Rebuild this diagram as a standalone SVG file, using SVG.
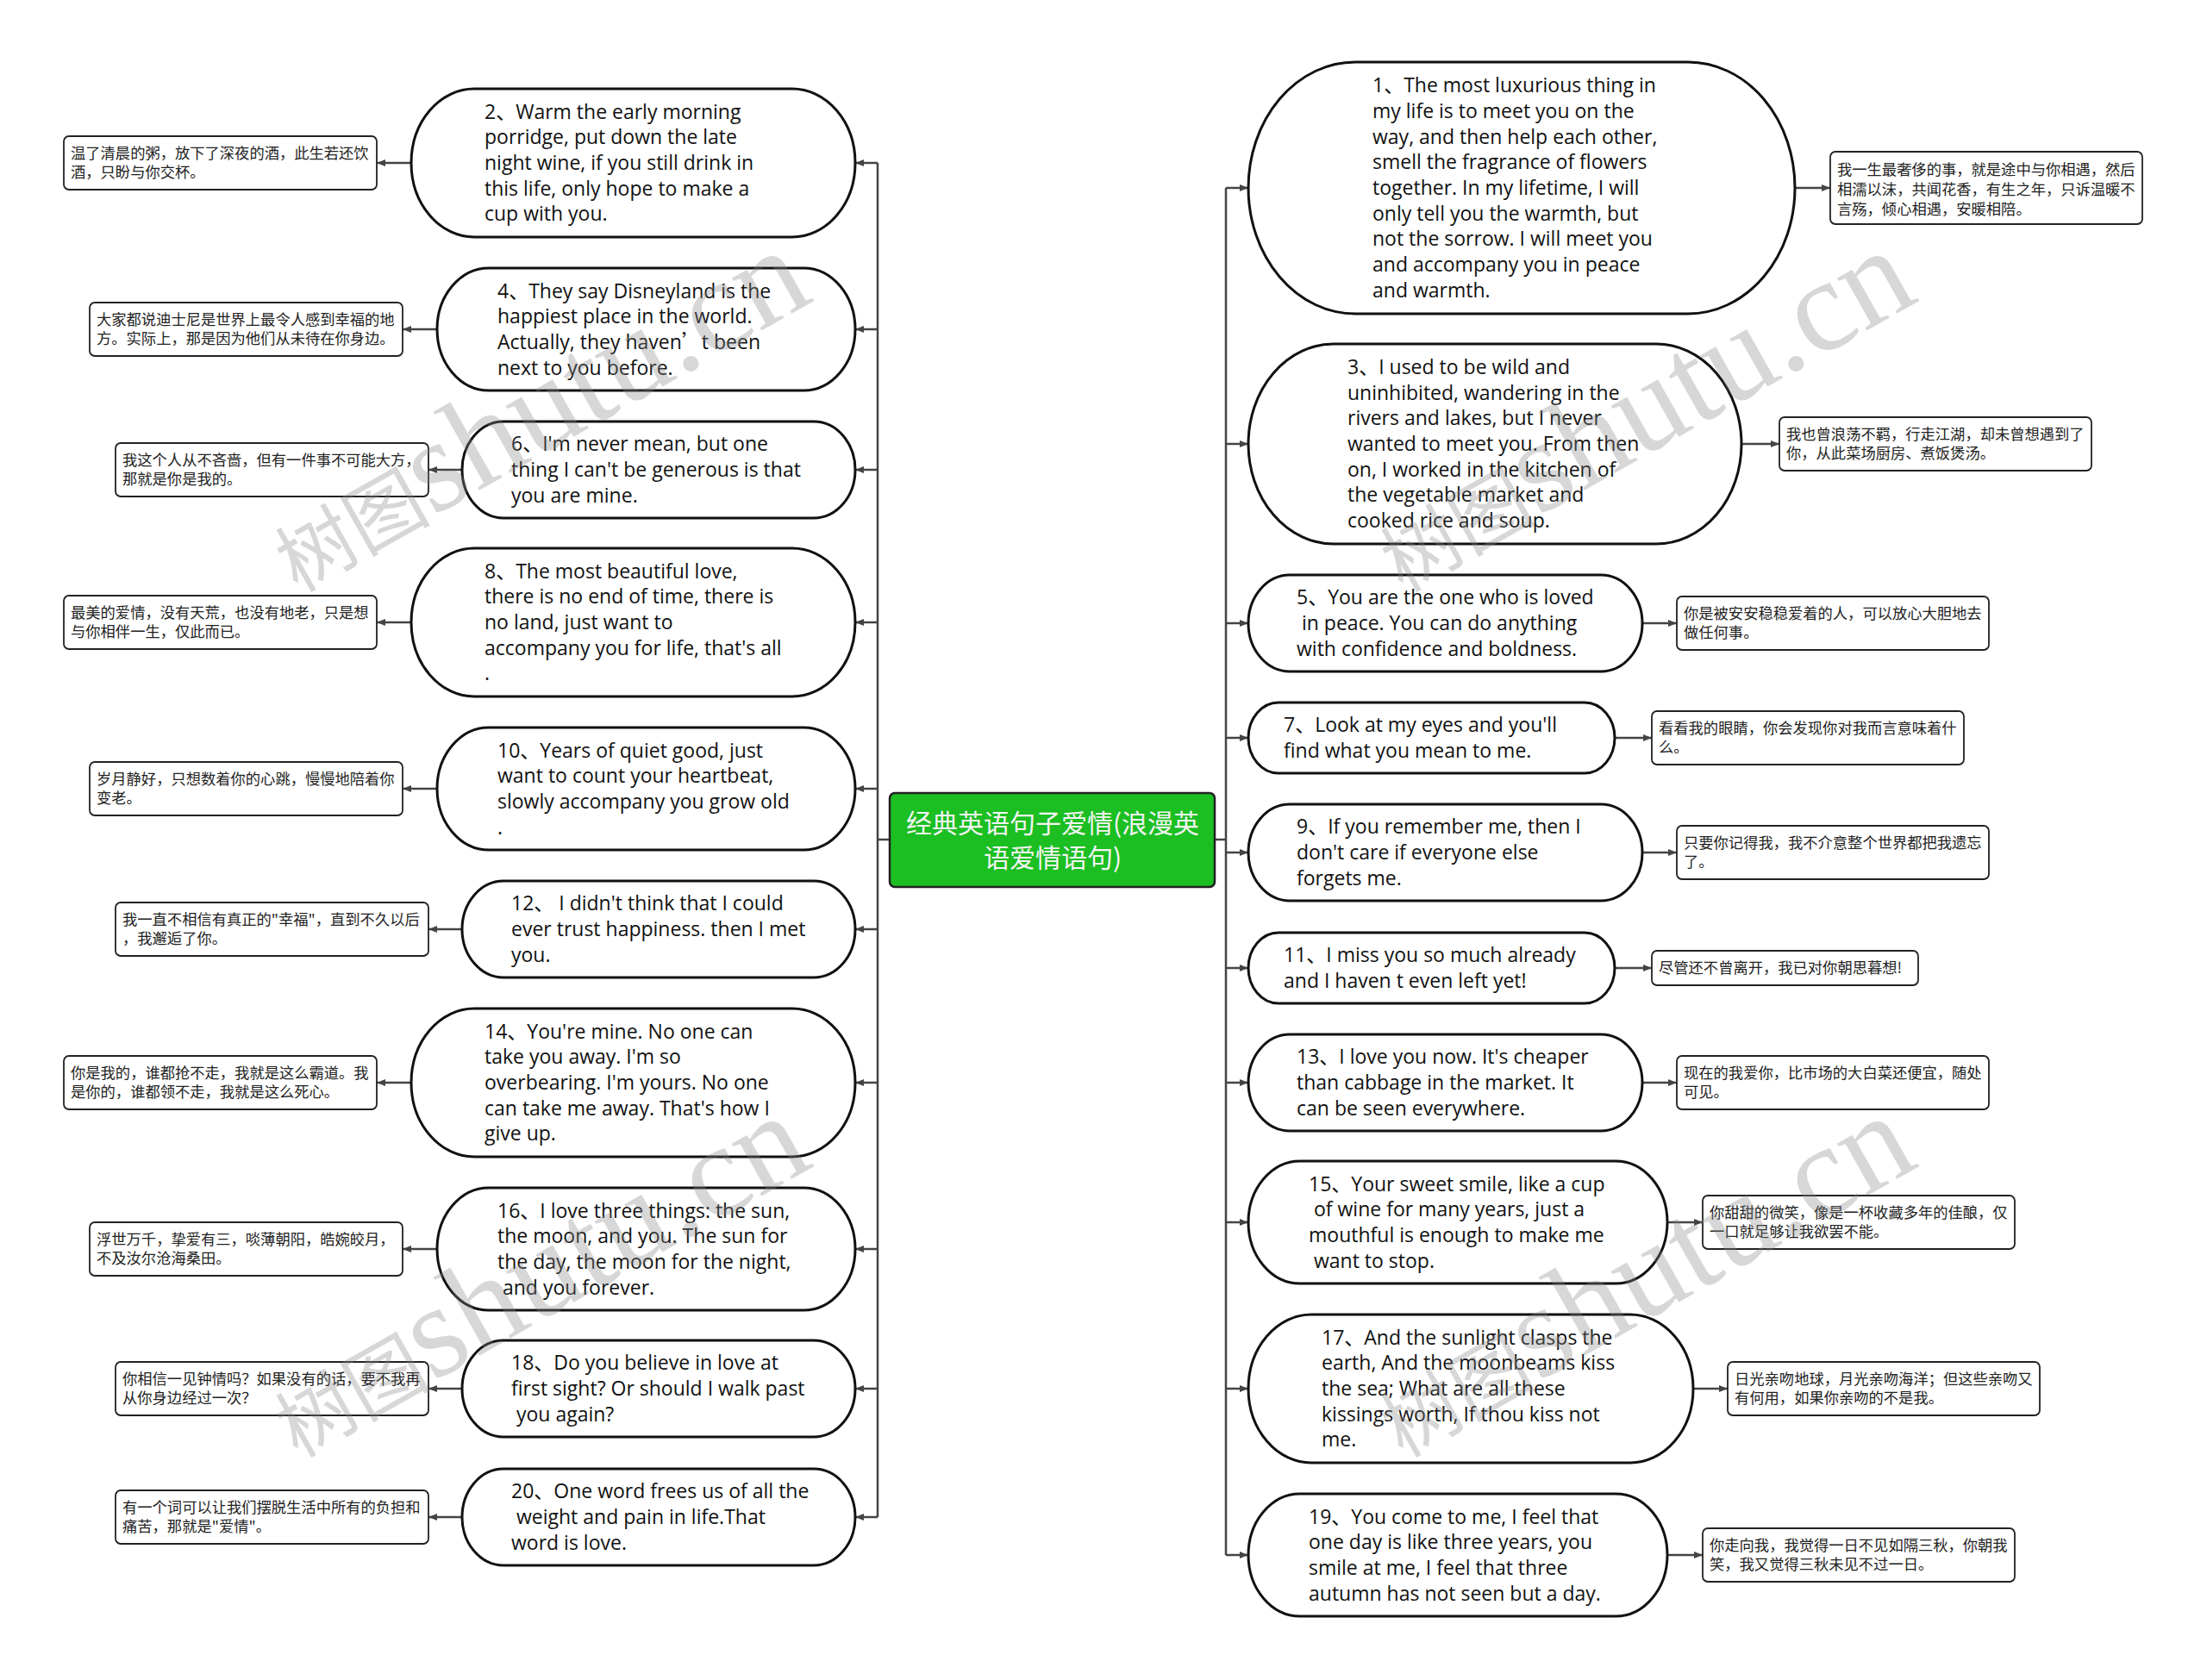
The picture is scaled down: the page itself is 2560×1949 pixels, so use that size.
<svg xmlns="http://www.w3.org/2000/svg" width="2560" height="1949" viewBox="0 0 2560 1949">
<defs>
<style>
.nd{fill:#fff;stroke:#111;stroke-width:3}
.cb{fill:#fff;stroke:#222;stroke-width:1.8}
.en{font-family:"Open Sans","Liberation Sans","Noto Sans CJK SC",sans-serif;font-size:23px;fill:#111}
.zh{font-family:"Noto Sans CJK SC","Noto Sans CJK TC",sans-serif;font-size:17.3px;fill:#222}
.ct{font-family:"Noto Sans CJK SC","Noto Sans CJK TC",sans-serif;font-size:30px;fill:#f4f4f4;text-anchor:middle}
.cn{fill:none;stroke:#444;stroke-width:2.5}
.wm{font-family:"Liberation Serif","Noto Sans CJK SC",serif;fill:#888;opacity:0.33}
</style>
<marker id="arr" viewBox="0 0 10 10" refX="10" refY="5" markerWidth="11" markerHeight="10" markerUnits="userSpaceOnUse" orient="auto"><path d="M0,1 L10,5 L0,9 z" fill="#444"/></marker>
</defs>
<rect width="2560" height="1949" fill="#fff"/>

<g id="connectors">
<path class="cn" d="M1032,974 H1018 M1018,189 V1760"/>
<path class="cn" d="M1409,974 H1422 M1422,218 V1804"/>
<g marker-end="url(#arr)">
<path class="cn" d="M1018,189 H992"/>
<path class="cn" d="M1018,382 H992"/>
<path class="cn" d="M1018,545 H992"/>
<path class="cn" d="M1018,722 H992"/>
<path class="cn" d="M1018,915 H992"/>
<path class="cn" d="M1018,1078 H992"/>
<path class="cn" d="M1018,1256 H992"/>
<path class="cn" d="M1018,1449 H992"/>
<path class="cn" d="M1018,1611 H992"/>
<path class="cn" d="M1018,1760 H992"/>
<path class="cn" d="M477,189 H437"/>
<path class="cn" d="M507,382 H467"/>
<path class="cn" d="M536,545 H497"/>
<path class="cn" d="M477,722 H437"/>
<path class="cn" d="M507,915 H467"/>
<path class="cn" d="M536,1078 H497"/>
<path class="cn" d="M477,1256 H437"/>
<path class="cn" d="M507,1449 H467"/>
<path class="cn" d="M536,1611 H497"/>
<path class="cn" d="M536,1760 H497"/>
<path class="cn" d="M1422,218 H1448"/>
<path class="cn" d="M1422,515 H1448"/>
<path class="cn" d="M1422,723 H1448"/>
<path class="cn" d="M1422,856 H1448"/>
<path class="cn" d="M1422,989 H1448"/>
<path class="cn" d="M1422,1123 H1448"/>
<path class="cn" d="M1422,1256 H1448"/>
<path class="cn" d="M1422,1418 H1448"/>
<path class="cn" d="M1422,1611 H1448"/>
<path class="cn" d="M1422,1804 H1448"/>
<path class="cn" d="M2082,218 H2123"/>
<path class="cn" d="M2020,515 H2064"/>
<path class="cn" d="M1905,723 H1945"/>
<path class="cn" d="M1873,856 H1916"/>
<path class="cn" d="M1905,989 H1945"/>
<path class="cn" d="M1873,1123 H1916"/>
<path class="cn" d="M1905,1256 H1945"/>
<path class="cn" d="M1934,1418 H1975"/>
<path class="cn" d="M1964,1611 H2004"/>
<path class="cn" d="M1934,1804 H1975"/>
</g>
</g>

<g id="center">
<rect x="1032" y="920" width="377" height="109" rx="6" fill="#1bbf22" stroke="#222" stroke-width="2.5"/>
<text class="ct" x="1221" y="966">经典英语句子爱情(浪漫英</text>
<text class="ct" x="1221" y="1006">语爱情语句)</text>
</g>

<g id="n2">
<rect class="nd" x="477" y="103" width="515" height="172" rx="73" ry="86"/>
<text class="en" x="562" y="137.6" xml:space="preserve">2、Warm the early morning<tspan x="562" dy="29.7">porridge, put down the late</tspan><tspan x="562" dy="29.7">night wine, if you still drink in</tspan><tspan x="562" dy="29.7">this life, only hope to make a</tspan><tspan x="562" dy="29.7">cup with you.</tspan></text>
</g>
<g id="c2">
<rect class="cb" x="74" y="158" width="363" height="62" rx="6"/>
<text class="zh" x="82" y="184">温了清晨的粥，放下了深夜的酒，此生若还饮<tspan x="82" dy="22">酒，只盼与你交杯。</tspan></text>
</g>

<g id="n4">
<rect class="nd" x="507" y="311" width="485" height="142" rx="60" ry="71"/>
<text class="en" x="577" y="345.5" xml:space="preserve">4、They say Disneyland is the<tspan x="577" dy="29.7">happiest place in the world.</tspan><tspan x="577" dy="29.7">Actually, they haven<tspan font-family="Noto Sans CJK SC">’</tspan>t been</tspan><tspan x="577" dy="29.7">next to you before.</tspan></text>
</g>
<g id="c4">
<rect class="cb" x="104" y="351" width="363" height="62" rx="6"/>
<text class="zh" x="112" y="377">大家都说迪士尼是世界上最令人感到幸福的地<tspan x="112" dy="22">方。实际上，那是因为他们从未待在你身边。</tspan></text>
</g>

<g id="n6">
<rect class="nd" x="536" y="489" width="456" height="112" rx="48" ry="56"/>
<text class="en" x="593" y="523.3" xml:space="preserve">6、I'm never mean, but one<tspan x="593" dy="29.7">thing I can't be generous is that</tspan><tspan x="593" dy="29.7">you are mine.</tspan></text>
</g>
<g id="c6">
<rect class="cb" x="134" y="514" width="363" height="62" rx="6"/>
<text class="zh" x="142" y="540">我这个人从不吝啬，但有一件事不可能大方，<tspan x="142" dy="22">那就是你是我的。</tspan></text>
</g>

<g id="n8">
<rect class="nd" x="477" y="636" width="515" height="172" rx="73" ry="86"/>
<text class="en" x="562" y="670.6" xml:space="preserve">8、The most beautiful love,<tspan x="562" dy="29.7">there is no end of time, there is</tspan><tspan x="562" dy="29.7">no land, just want to</tspan><tspan x="562" dy="29.7">accompany you for life, that's all</tspan><tspan x="562" dy="29.7">.</tspan></text>
</g>
<g id="c8">
<rect class="cb" x="74" y="691" width="363" height="62" rx="6"/>
<text class="zh" x="82" y="717">最美的爱情，没有天荒，也没有地老，只是想<tspan x="82" dy="22">与你相伴一生，仅此而已。</tspan></text>
</g>

<g id="n10">
<rect class="nd" x="507" y="844" width="485" height="142" rx="60" ry="71"/>
<text class="en" x="577" y="878.5" xml:space="preserve">10、Years of quiet good, just<tspan x="577" dy="29.7">want to count your heartbeat,</tspan><tspan x="577" dy="29.7">slowly accompany you grow old</tspan><tspan x="577" dy="29.7">.</tspan></text>
</g>
<g id="c10">
<rect class="cb" x="104" y="884" width="363" height="62" rx="6"/>
<text class="zh" x="112" y="910">岁月静好，只想数着你的心跳，慢慢地陪着你<tspan x="112" dy="22">变老。</tspan></text>
</g>

<g id="n12">
<rect class="nd" x="536" y="1022" width="456" height="112" rx="48" ry="56"/>
<text class="en" x="593" y="1056.3" xml:space="preserve">12、 I didn't think that I could<tspan x="593" dy="29.7">ever trust happiness. then I met</tspan><tspan x="593" dy="29.7">you.</tspan></text>
</g>
<g id="c12">
<rect class="cb" x="134" y="1047" width="363" height="62" rx="6"/>
<text class="zh" x="142" y="1073">我一直不相信有真正的"幸福"，直到不久以后<tspan x="142" dy="22">，我邂逅了你。</tspan></text>
</g>

<g id="n14">
<rect class="nd" x="477" y="1170" width="515" height="172" rx="73" ry="86"/>
<text class="en" x="562" y="1204.6" xml:space="preserve">14、You're mine. No one can<tspan x="562" dy="29.7">take you away. I'm so</tspan><tspan x="562" dy="29.7">overbearing. I'm yours. No one</tspan><tspan x="562" dy="29.7">can take me away. That's how I</tspan><tspan x="562" dy="29.7">give up.</tspan></text>
</g>
<g id="c14">
<rect class="cb" x="74" y="1225" width="363" height="62" rx="6"/>
<text class="zh" x="82" y="1251">你是我的，谁都抢不走，我就是这么霸道。我<tspan x="82" dy="22">是你的，谁都领不走，我就是这么死心。</tspan></text>
</g>

<g id="n16">
<rect class="nd" x="507" y="1378" width="485" height="142" rx="60" ry="71"/>
<text class="en" x="577" y="1412.5" xml:space="preserve">16、I love three things: the sun,<tspan x="577" dy="29.7">the moon, and you. The sun for</tspan><tspan x="577" dy="29.7">the day, the moon for the night,</tspan><tspan x="577" dy="29.7"> and you forever.</tspan></text>
</g>
<g id="c16">
<rect class="cb" x="104" y="1418" width="363" height="62" rx="6"/>
<text class="zh" x="112" y="1444">浮世万千，挚爱有三，啖薄朝阳，皓婉皎月，<tspan x="112" dy="22">不及汝尔沧海桑田。</tspan></text>
</g>

<g id="n18">
<rect class="nd" x="536" y="1555" width="456" height="112" rx="48" ry="56"/>
<text class="en" x="593" y="1589.3" xml:space="preserve">18、Do you believe in love at<tspan x="593" dy="29.7">first sight? Or should I walk past</tspan><tspan x="593" dy="29.7"> you again?</tspan></text>
</g>
<g id="c18">
<rect class="cb" x="134" y="1580" width="363" height="62" rx="6"/>
<text class="zh" x="142" y="1606">你相信一见钟情吗？如果没有的话，要不我再<tspan x="142" dy="22">从你身边经过一次？</tspan></text>
</g>

<g id="n20">
<rect class="nd" x="536" y="1704" width="456" height="112" rx="48" ry="56"/>
<text class="en" x="593" y="1738.3" xml:space="preserve">20、One word frees us of all the<tspan x="593" dy="29.7"> weight and pain in life.That</tspan><tspan x="593" dy="29.7">word is love.</tspan></text>
</g>
<g id="c20">
<rect class="cb" x="134" y="1729" width="363" height="62" rx="6"/>
<text class="zh" x="142" y="1755">有一个词可以让我们摆脱生活中所有的负担和<tspan x="142" dy="22">痛苦，那就是"爱情"。</tspan></text>
</g>

<g id="n1">
<rect class="nd" x="1448" y="72" width="634" height="292" rx="124" ry="146"/>
<text class="en" x="1592" y="107.2" xml:space="preserve">1、The most luxurious thing in<tspan x="1592" dy="29.7">my life is to meet you on the</tspan><tspan x="1592" dy="29.7">way, and then help each other,</tspan><tspan x="1592" dy="29.7">smell the fragrance of flowers</tspan><tspan x="1592" dy="29.7">together. In my lifetime, I will</tspan><tspan x="1592" dy="29.7">only tell you the warmth, but</tspan><tspan x="1592" dy="29.7">not the sorrow. I will meet you</tspan><tspan x="1592" dy="29.7">and accompany you in peace</tspan><tspan x="1592" dy="29.7">and warmth.</tspan></text>
</g>
<g id="c1">
<rect class="cb" x="2123" y="176" width="362" height="84" rx="6"/>
<text class="zh" x="2131" y="203">我一生最奢侈的事，就是途中与你相遇，然后<tspan x="2131" dy="23">相濡以沫，共闻花香，有生之年，只诉温暖不</tspan><tspan x="2131" dy="23">言殇，倾心相遇，安暖相陪。</tspan></text>
</g>

<g id="n3">
<rect class="nd" x="1448" y="399" width="572" height="232" rx="99" ry="116"/>
<text class="en" x="1563" y="433.9" xml:space="preserve">3、I used to be wild and<tspan x="1563" dy="29.7">uninhibited, wandering in the</tspan><tspan x="1563" dy="29.7">rivers and lakes, but I never</tspan><tspan x="1563" dy="29.7">wanted to meet you. From then</tspan><tspan x="1563" dy="29.7">on, I worked in the kitchen of</tspan><tspan x="1563" dy="29.7">the vegetable market and</tspan><tspan x="1563" dy="29.7">cooked rice and soup.</tspan></text>
</g>
<g id="c3">
<rect class="cb" x="2064" y="484" width="362" height="62" rx="6"/>
<text class="zh" x="2072" y="510">我也曾浪荡不羁，行走江湖，却未曾想遇到了<tspan x="2072" dy="22">你，从此菜场厨房、煮饭煲汤。</tspan></text>
</g>

<g id="n5">
<rect class="nd" x="1448" y="667" width="457" height="112" rx="48" ry="56"/>
<text class="en" x="1504" y="701.3" xml:space="preserve">5、You are the one who is loved<tspan x="1504" dy="29.7"> in peace. You can do anything</tspan><tspan x="1504" dy="29.7">with confidence and boldness.</tspan></text>
</g>
<g id="c5">
<rect class="cb" x="1945" y="692" width="362" height="62" rx="6"/>
<text class="zh" x="1953" y="718">你是被安安稳稳爱着的人，可以放心大胆地去<tspan x="1953" dy="22">做任何事。</tspan></text>
</g>

<g id="n7">
<rect class="nd" x="1448" y="815" width="425" height="82" rx="35" ry="41"/>
<text class="en" x="1489" y="849.2" xml:space="preserve">7、Look at my eyes and you'll<tspan x="1489" dy="29.7">find what you mean to me.</tspan></text>
</g>
<g id="c7">
<rect class="cb" x="1916" y="825" width="362" height="62" rx="6"/>
<text class="zh" x="1924" y="851">看看我的眼睛，你会发现你对我而言意味着什<tspan x="1924" dy="22">么。</tspan></text>
</g>

<g id="n9">
<rect class="nd" x="1448" y="933" width="457" height="112" rx="48" ry="56"/>
<text class="en" x="1504" y="967.3" xml:space="preserve">9、If you remember me, then I<tspan x="1504" dy="29.7">don't care if everyone else</tspan><tspan x="1504" dy="29.7">forgets me.</tspan></text>
</g>
<g id="c9">
<rect class="cb" x="1945" y="958" width="362" height="62" rx="6"/>
<text class="zh" x="1953" y="984">只要你记得我，我不介意整个世界都把我遗忘<tspan x="1953" dy="22">了。</tspan></text>
</g>

<g id="n11">
<rect class="nd" x="1448" y="1082" width="425" height="82" rx="35" ry="41"/>
<text class="en" x="1489" y="1116.2" xml:space="preserve">11、I miss you so much already<tspan x="1489" dy="29.7">and I haven t even left yet!</tspan></text>
</g>
<g id="c11">
<rect class="cb" x="1916" y="1103" width="309" height="40" rx="6"/>
<text class="zh" x="1924" y="1129">尽管还不曾离开，我已对你朝思暮想!</text>
</g>

<g id="n13">
<rect class="nd" x="1448" y="1200" width="457" height="112" rx="48" ry="56"/>
<text class="en" x="1504" y="1234.3" xml:space="preserve">13、I love you now. It's cheaper<tspan x="1504" dy="29.7">than cabbage in the market. It</tspan><tspan x="1504" dy="29.7">can be seen everywhere.</tspan></text>
</g>
<g id="c13">
<rect class="cb" x="1945" y="1225" width="362" height="62" rx="6"/>
<text class="zh" x="1953" y="1251">现在的我爱你，比市场的大白菜还便宜，随处<tspan x="1953" dy="22">可见。</tspan></text>
</g>

<g id="n15">
<rect class="nd" x="1448" y="1347" width="486" height="142" rx="60" ry="71"/>
<text class="en" x="1518" y="1381.5" xml:space="preserve">15、Your sweet smile, like a cup<tspan x="1518" dy="29.7"> of wine for many years, just a</tspan><tspan x="1518" dy="29.7">mouthful is enough to make me</tspan><tspan x="1518" dy="29.7"> want to stop.</tspan></text>
</g>
<g id="c15">
<rect class="cb" x="1975" y="1387" width="362" height="62" rx="6"/>
<text class="zh" x="1983" y="1413">你甜甜的微笑，像是一杯收藏多年的佳酿，仅<tspan x="1983" dy="22">一口就足够让我欲罢不能。</tspan></text>
</g>

<g id="n17">
<rect class="nd" x="1448" y="1525" width="516" height="172" rx="73" ry="86"/>
<text class="en" x="1533" y="1559.6" xml:space="preserve">17、And the sunlight clasps the<tspan x="1533" dy="29.7">earth, And the moonbeams kiss</tspan><tspan x="1533" dy="29.7">the sea; What are all these</tspan><tspan x="1533" dy="29.7">kissings worth, If thou kiss not</tspan><tspan x="1533" dy="29.7">me.</tspan></text>
</g>
<g id="c17">
<rect class="cb" x="2004" y="1580" width="362" height="62" rx="6"/>
<text class="zh" x="2012" y="1606">日光亲吻地球，月光亲吻海洋；但这些亲吻又<tspan x="2012" dy="22">有何用，如果你亲吻的不是我。</tspan></text>
</g>

<g id="n19">
<rect class="nd" x="1448" y="1733" width="486" height="142" rx="60" ry="71"/>
<text class="en" x="1518" y="1767.5" xml:space="preserve">19、You come to me, I feel that<tspan x="1518" dy="29.7">one day is like three years, you</tspan><tspan x="1518" dy="29.7">smile at me, I feel that three</tspan><tspan x="1518" dy="29.7">autumn has not seen but a day.</tspan></text>
</g>
<g id="c19">
<rect class="cb" x="1975" y="1773" width="362" height="62" rx="6"/>
<text class="zh" x="1983" y="1799">你走向我，我觉得一日不见如隔三秋，你朝我<tspan x="1983" dy="22">笑，我又觉得三秋未见不过一日。</tspan></text>
</g>

<g id="watermarks">
<text class="wm" transform="translate(345,688) rotate(-29.5)"><tspan font-size="90">树图</tspan><tspan font-size="152">shutu.cn</tspan></text>
<text class="wm" transform="translate(345,1692) rotate(-29.5)"><tspan font-size="90">树图</tspan><tspan font-size="152">shutu.cn</tspan></text>
<text class="wm" transform="translate(1627,688) rotate(-29.5)"><tspan font-size="90">树图</tspan><tspan font-size="152">shutu.cn</tspan></text>
<text class="wm" transform="translate(1627,1692) rotate(-29.5)"><tspan font-size="90">树图</tspan><tspan font-size="152">shutu.cn</tspan></text>
</g>
</svg>
